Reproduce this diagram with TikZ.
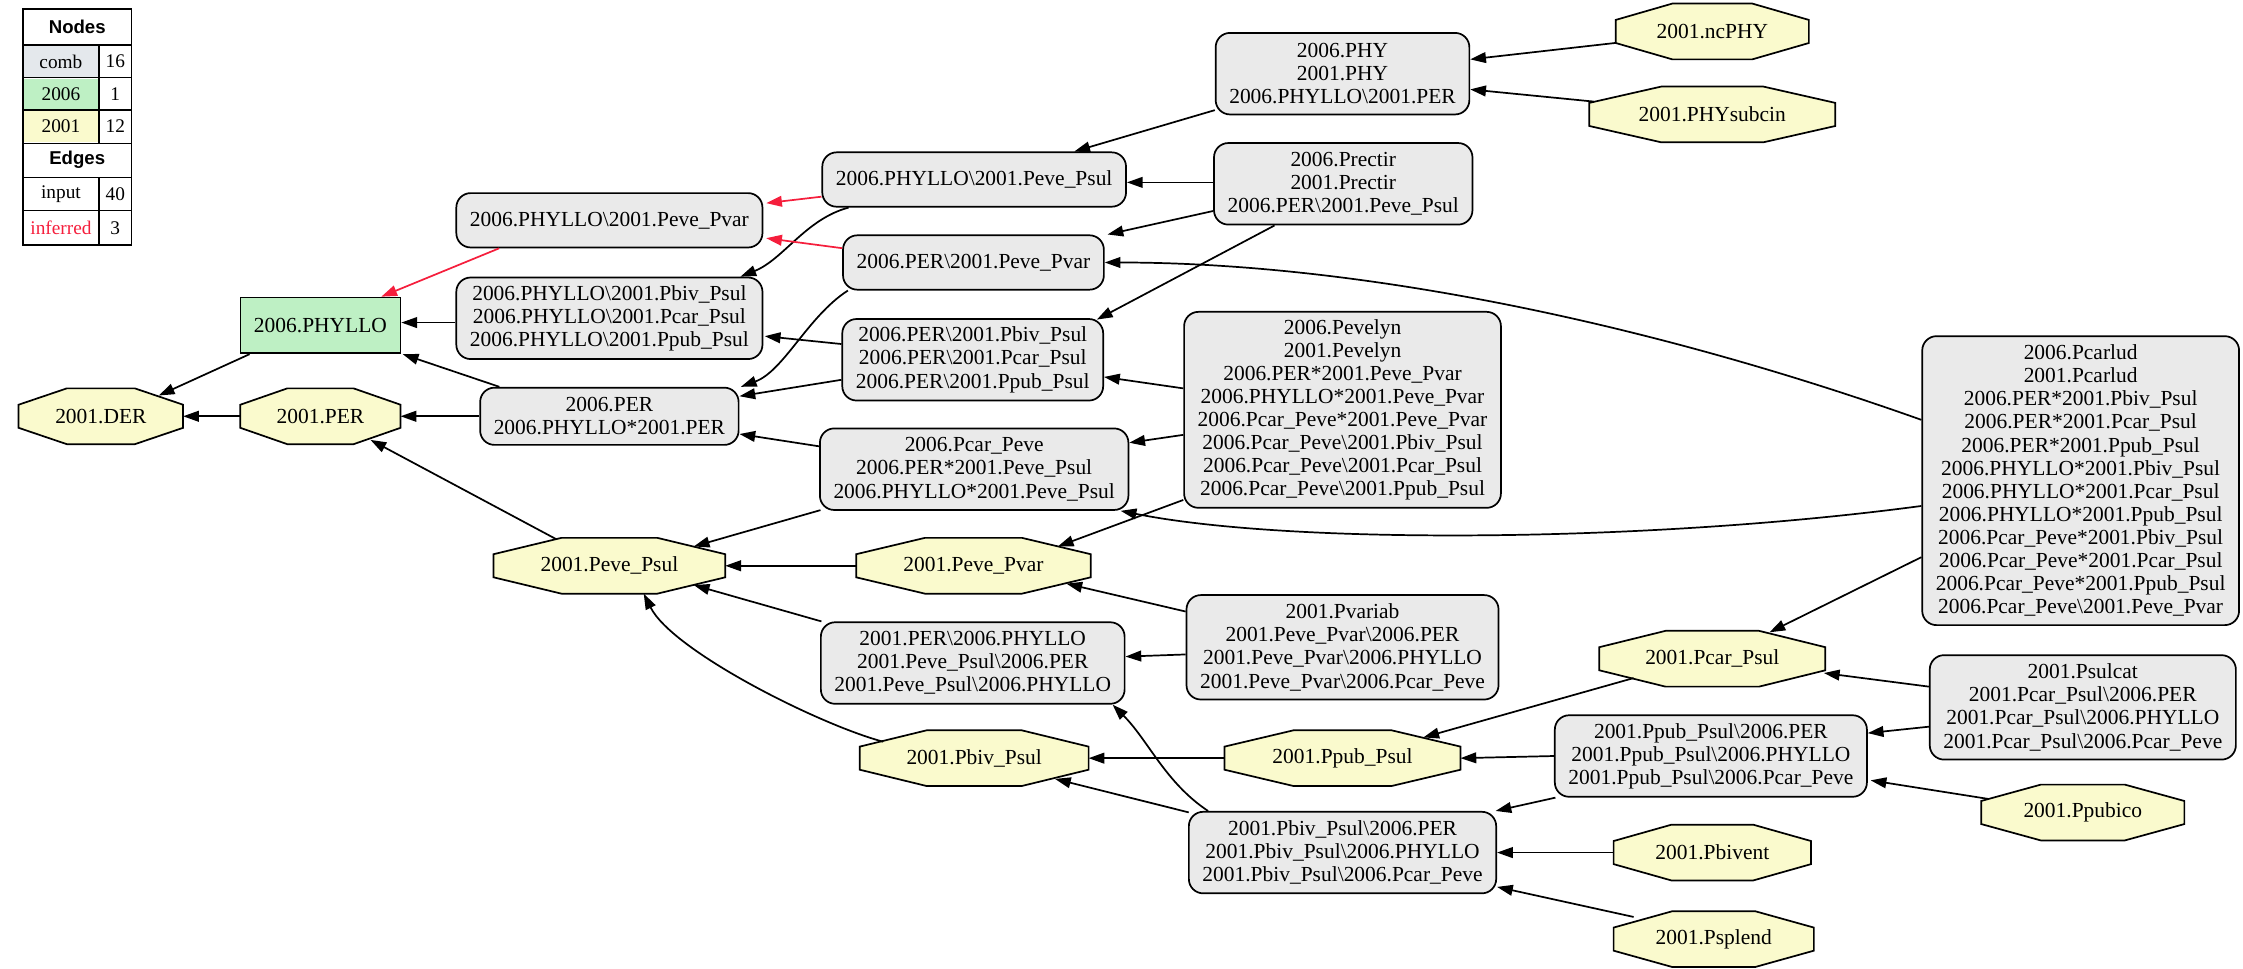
\documentclass[tikz,border=0pt]{standalone}
\usepackage{fontspec}
\setmainfont{Liberation Serif}
\newfontfamily\legsans{Liberation Sans}
\usetikzlibrary{arrows.meta,calc}
\pgfdeclarelayer{background}
\pgfsetlayers{background,main}
\definecolor{combgrey}{RGB}{234,234,234}
\definecolor{octyellow}{RGB}{250,250,205}
\definecolor{phygreen}{RGB}{190,240,196}
\definecolor{legcomb}{RGB}{228,232,236}
\definecolor{infred}{RGB}{245,30,60}
\newcommand\nodefont{\fontsize{15}{16.15}\selectfont}
\newcommand\legfont{\fontsize{13.5}{15}\selectfont}
\newcommand\mybs{\textbackslash}
\newcommand\myoctagon[1]{%
  \filldraw[fill=octyellow,draw=black,line width=1.2pt,line join=miter]
    ($(#1.north west)!0.293!(#1.north east)$) -- ($(#1.north west)!0.707!(#1.north east)$) --
    ($(#1.north east)!0.293!(#1.south east)$) -- ($(#1.north east)!0.707!(#1.south east)$) --
    ($(#1.south west)!0.707!(#1.south east)$) -- ($(#1.south west)!0.293!(#1.south east)$) --
    ($(#1.north west)!0.707!(#1.south west)$) -- ($(#1.north west)!0.293!(#1.south west)$) -- cycle;}
\tikzset{
  combox/.style={draw, line width=1.2pt, rounded corners=10pt, fill=combgrey, align=center,
    inner xsep=9.5pt, inner ysep=2pt, font=\nodefont},
  octn/.style={draw=none, fill=none, inner sep=0pt, outer sep=0pt, font=\nodefont, minimum height=39pt},
  conn/.style={line width=1.2pt, -{Triangle[length=11pt,width=7.5pt]}},
  infer/.style={conn, draw=infred, color=infred},
  legtxt/.style={font=\legfont, inner sep=0pt},
  leghead/.style={font=\legsans\bfseries\fontsize{13}{15}\selectfont, inner sep=0pt}
}
\begin{document}
\begin{tikzpicture}[x=1pt,y=-1pt]
\useasboundingbox (0,0) rectangle (1568,677);

% ---------- legend ----------
\fill[legcomb] (17,32.5) rectangle (68.5,53.5);
\fill[phygreen] (17,55) rectangle (68.5,76.2);
\fill[octyellow] (17,77.6) rectangle (68.5,99.5);
\draw[line width=1.2pt] (16,6.5) rectangle (92,171.3);
\foreach \yy in {31.5,54.3,76.9,100.2,124,147.3} \draw[line width=1pt] (16,\yy) -- (92,\yy);
\draw[line width=1pt] (69.2,31.5) -- (69.2,100.2);
\draw[line width=1pt] (69.2,124) -- (69.2,171.3);
\node[leghead] (lgnodes) at (54,19) {Nodes};
\node[legtxt] (lgcomb) at (42.6,43) {comb};
\node[legtxt] (lgcombn) at (80.6,43) {16};
\node[legtxt] (lgnew) at (42.6,65.6) {2006};
\node[legtxt] (lgnewn) at (80.6,65.6) {1};
\node[legtxt] (lgold) at (42.6,88.5) {2001};
\node[legtxt] (lgoldn) at (80.6,88.5) {12};
\node[leghead] (lgedges) at (54,112) {Edges};
\node[legtxt] (lginput) at (42.6,135.6) {input};
\node[legtxt] (lginputn) at (80.6,135.6) {40};
\node[legtxt,text=infred] (lginf) at (42.6,159.3) {inferred};
\node[legtxt] (lginfn) at (80.6,159.3) {3};

% ---------- nodes ----------
\node[draw, line width=1.2pt, fill=phygreen, font=\nodefont, inner xsep=9.5pt, minimum height=39pt] (phyllo) at (224,227.5) {2006.PHYLLO};

\node[combox, minimum height=38pt] (b4) at (426,154) {2006.PHYLLO\mybs2001.Peve\_Pvar};
\node[combox, minimum height=57pt] (b5) at (426,222.5) {2006.PHYLLO\mybs2001.Pbiv\_Psul\\2006.PHYLLO\mybs2001.Pcar\_Psul\\2006.PHYLLO\mybs2001.Ppub\_Psul};
\node[combox, minimum height=40pt] (b6) at (426,291) {2006.PER\\2006.PHYLLO*2001.PER};
\node[combox, minimum height=38pt] (b7) at (681,125.5) {2006.PHYLLO\mybs2001.Peve\_Psul};
\node[combox, minimum height=38pt] (b8) at (680.5,183.5) {2006.PER\mybs2001.Peve\_Pvar};
\node[combox, minimum height=57pt] (b9) at (680,251.5) {2006.PER\mybs2001.Pbiv\_Psul\\2006.PER\mybs2001.Pcar\_Psul\\2006.PER\mybs2001.Ppub\_Psul};
\node[combox, minimum height=57pt] (b10) at (681,328) {2006.Pcar\_Peve\\2006.PER*2001.Peve\_Psul\\2006.PHYLLO*2001.Peve\_Psul};
\node[combox, minimum height=57pt] (phy) at (938.5,51.5) {2006.PHY\\2001.PHY\\2006.PHYLLO\mybs2001.PER};
\node[combox, minimum height=57pt] (prectir) at (939,128.5) {2006.Prectir\\2001.Prectir\\2006.PER\mybs2001.Peve\_Psul};
\node[combox, minimum height=137pt] (pevelyn) at (938.5,286.5) {2006.Pevelyn\\2001.Pevelyn\\2006.PER*2001.Peve\_Pvar\\2006.PHYLLO*2001.Peve\_Pvar\\2006.Pcar\_Peve*2001.Peve\_Pvar\\2006.Pcar\_Peve\mybs2001.Pbiv\_Psul\\2006.Pcar\_Peve\mybs2001.Pcar\_Psul\\2006.Pcar\_Peve\mybs2001.Ppub\_Psul};
\node[combox, minimum height=202pt] (pcarlud) at (1454.5,336) {2006.Pcarlud\\2001.Pcarlud\\2006.PER*2001.Pbiv\_Psul\\2006.PER*2001.Pcar\_Psul\\2006.PER*2001.Ppub\_Psul\\2006.PHYLLO*2001.Pbiv\_Psul\\2006.PHYLLO*2001.Pcar\_Psul\\2006.PHYLLO*2001.Ppub\_Psul\\2006.Pcar\_Peve*2001.Pbiv\_Psul\\2006.Pcar\_Peve*2001.Pcar\_Psul\\2006.Pcar\_Peve*2001.Ppub\_Psul\\2006.Pcar\_Peve\mybs2001.Peve\_Pvar};
\node[combox, minimum height=57pt] (b19) at (680,463.5) {2001.PER\mybs2006.PHYLLO\\2001.Peve\_Psul\mybs2006.PER\\2001.Peve\_Psul\mybs2006.PHYLLO};
\node[combox, minimum height=73pt] (pvariab) at (938.5,452.5) {2001.Pvariab\\2001.Peve\_Pvar\mybs2006.PER\\2001.Peve\_Pvar\mybs2006.PHYLLO\\2001.Peve\_Pvar\mybs2006.Pcar\_Peve};
\node[combox, minimum height=73pt] (psulcat) at (1456,494.5) {2001.Psulcat\\2001.Pcar\_Psul\mybs2006.PER\\2001.Pcar\_Psul\mybs2006.PHYLLO\\2001.Pcar\_Psul\mybs2006.Pcar\_Peve};
\node[combox, minimum height=57pt] (b23) at (1196,528.5) {2001.Ppub\_Psul\mybs2006.PER\\2001.Ppub\_Psul\mybs2006.PHYLLO\\2001.Ppub\_Psul\mybs2006.Pcar\_Peve};
\node[combox, minimum height=57pt] (b26) at (938.5,596) {2001.Pbiv\_Psul\mybs2006.PER\\2001.Pbiv\_Psul\mybs2006.PHYLLO\\2001.Pbiv\_Psul\mybs2006.Pcar\_Peve};

\node[octn, minimum width=115pt] (der) at (70.5,291) {2001.DER};
\node[octn, minimum width=112pt] (per) at (224,291) {2001.PER};
\node[octn, minimum width=162pt] (pevepsul) at (426,395.5) {2001.Peve\_Psul};
\node[octn, minimum width=164pt] (pevepvar) at (680.5,395.5) {2001.Peve\_Pvar};
\node[octn, minimum width=160pt] (pbivpsul) at (681,530) {2001.Pbiv\_Psul};
\node[octn, minimum width=165pt] (ppubpsul) at (938.5,530) {2001.Ppub\_Psul};
\node[octn, minimum width=158pt] (pcarpsul) at (1197,460.5) {2001.Pcar\_Psul};
\node[octn, minimum width=135pt] (ncphy) at (1197,22) {2001.ncPHY};
\node[octn, minimum width=172pt] (physubcin) at (1197,80) {2001.PHYsubcin};
\node[octn, minimum width=138pt] (pbivent) at (1197,596) {2001.Pbivent};
\node[octn, minimum width=140pt] (psplend) at (1198,656.5) {2001.Psplend};
\node[octn, minimum width=142pt] (ppubico) at (1456,568) {2001.Ppubico};

\begin{pgfonlayer}{background}
\foreach \n in {der,per,pevepsul,pevepvar,pbivpsul,ppubpsul,pcarpsul,ncphy,physubcin,pbivent,psplend,ppubico} {\myoctagon{\n}}
\end{pgfonlayer}

% ---------- input edges ----------
\draw[conn] ($(ncphy.west)+(0,8)$) -- ($(phy.east)+(0,-10)$);
\draw[conn] ($(physubcin.west)+(3,-9)$) -- ($(phy.east)+(0,11)$);
\draw[conn] ($(phy.west)+(0,25.5)$) -- ($(b7.north)+(70,0)$);
\draw[conn] ($(prectir.west)+(0,-1)$) -- ($(b7.east)+(0,2)$);
\draw[conn] ($(prectir.west)+(0,19)$) -- ($(b8.north east)+(2,0)$);
\draw[conn] ($(prectir.south)+(-48,0)$) -- ($(b9.north east)+(-5,1)$);
\draw[conn] ($(b7.south west)+(19,0)$) .. controls +(-30,8) and +(30,-12) .. ($(b5.north east)+(-16,0)$);
\draw[conn] ($(b8.south west)+(4,0)$) .. controls +(-28,18) and +(30,-11) .. ($(b6.north east)+(1,0)$);
\draw[conn] ($(b9.west)+(0,-11)$) -- ($(b5.east)+(1,12.5)$);
\draw[conn] ($(b9.west)+(0,14)$) -- ($(b6.east)+(0,-14)$);
\draw[conn] ($(b10.west)+(0,-16)$) -- ($(b6.east)+(0,12.4)$);
\draw[conn] ($(b5.west)+(0,3)$) -- ($(phyllo.east)+(0,-2)$);
\draw[conn] ($(b6.north west)+(14,0)$) -- ($(phyllo.south east)+(1,0)$);
\draw[conn] (b6.west) -- (per.east);
\draw[conn] (per.west) -- (der.east);
\draw[conn] ($(phyllo.south west)+(7,0)$) -- ($(der.north east)+(-17,5)$);
\draw[conn] ($(pevepsul.north west)+(44,1)$) -- ($(per.south east)+(-21,-3)$);
\draw[conn] ($(pcarlud.west)+(0,-42.5)$) .. controls +(-194,-69) and +(175,0) .. (b8.east);
\draw[conn] ($(pevelyn.west)+(0,-15)$) -- ($(b9.east)+(0,12)$);
\draw[conn] ($(pevelyn.west)+(0,17.5)$) -- ($(b10.east)+(0,-18.5)$);
\draw[conn] ($(pevelyn.west)+(0,63)$) -- ($(pevepvar.north east)+(-23,6)$);
\draw[conn] ($(pcarlud.west)+(0,17.7)$) .. controls +(-194.5,26) and +(117,23.5) .. ($(b10.south east)+(-6,0)$);
\draw[conn] ($(pcarlud.west)+(0,53.5)$) -- ($(pcarpsul.north east)+(-39,1)$);
\draw[conn] ($(b10.south west)+(1,-0.5)$) -- ($(pevepsul.north east)+(-22,6)$);
\draw[conn] (pevepvar.west) -- (pevepsul.east);
\draw[conn] ($(b19.north west)+(1,0)$) -- ($(pevepsul.south east)+(-22,-6)$);
\draw[conn] ($(pbivpsul.north west)+(16.4,8)$) .. controls +(-45,-12) and +(20,40) .. ($(pevepsul.south)+(24,0)$);
\draw[conn] ($(pvariab.west)+(0,-25)$) -- ($(pevepvar.south east)+(-17,-7)$);
\draw[conn] ($(pvariab.west)+(0,5)$) -- ($(b19.east)+(0,-4.5)$);
\draw[conn] ($(pcarpsul.south west)+(24,-6)$) -- ($(ppubpsul.north east)+(-26,5)$);
\draw[conn] ($(psulcat.west)+(0,-14.5)$) -- ($(pcarpsul.east)+(-1,10)$);
\draw[conn] ($(psulcat.west)+(0,13.5)$) -- ($(b23.east)+(0,-16)$);
\draw[conn] (b23.west) -- (ppubpsul.east);
\draw[conn] ($(b23.south west)+(1,0)$) -- ($(b26.north east)+(-1,0)$);
\draw[conn] ($(ppubico.north west)+(5,10)$) -- ($(b23.east)+(2,17)$);
\draw[conn] (ppubpsul.west) -- (pbivpsul.east);
\draw[conn] ($(b26.north west)+(0.5,1)$) -- ($(pbivpsul.south east)+(-23.5,-5)$);
\draw[conn] ($(b26.north west)+(14,0)$) .. controls +(-30,-20) and +(25,25) .. ($(b19.south east)+(-9,0)$);
\draw[conn] (pbivent.west) -- (b26.east);
\draw[conn] ($(psplend.north west)+(14,4)$) -- ($(b26.east)+(0,24)$);

% ---------- inferred edges ----------
\draw[infer] ($(b7.west)+(0,12)$) -- ($(b4.east)+(2,-12)$);
\draw[infer] ($(b8.west)+(0,-10)$) -- ($(b4.east)+(2,12.5)$);
\draw[infer] ($(b4.south west)+(30.5,0)$) -- ($(phyllo.north east)+(-14,0)$);
\end{tikzpicture}
\end{document}
